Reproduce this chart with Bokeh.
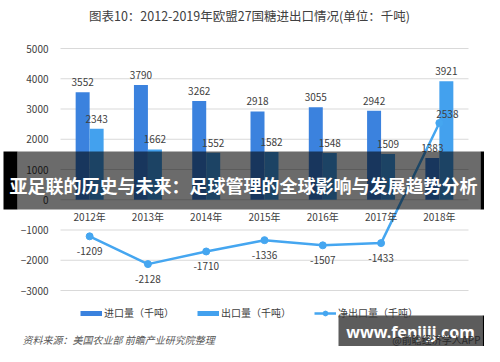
from bokeh.plotting import figure
from bokeh.models import (ColumnDataSource, Range1d, Label, BoxAnnotation,
                          Legend, LegendItem, FixedTicker, CDSView, IndexFilter)
from bokeh.embed import file_html
from bokeh.resources import INLINE
from bokeh.core.properties import value

# ---------------- data ----------------
years = ["2012年", "2013年", "2014年", "2015年", "2016年", "2017年", "2018年"]
imports = [3552, 3790, 3262, 2918, 3055, 2942, 1383]
exports = [2343, 1662, 1552, 1582, 1548, 1509, 3921]
net = [-1209, -2128, -1710, -1336, -1507, -1433, 2538]
y_ticks = [-3000, -2000, -1000, 0, 1000, 2000, 3000, 4000, 5000]
series_names = ["进口量（千吨）", "出口量（千吨）", "净出口量（千吨）"]
title_text = "图表10：2012-2019年欧盟27国糖进出口情况(单位：千吨)"
source_text = "资料来源：美国农业部 前瞻产业研究院整理"
banner_text = "亚足联的历史与未来：足球管理的全球影响与发展趋势分析"
wm_text = "www.fenjijj.com"
wm_sub = "@前瞻经济学人APP"

# ---------------- styles / layout ----------------
IMP = "#3B82DE"
EXP = "#43A1EE"
LINE = "#45A6F0"
TXT = "#404040"
FONT = "Noto Sans CJK SC"

W, H = 484, 346
NCAT = len(years)
YMIN, YMAX = -3000, 5000
# plot-area edges (pixels) of the chart
PL, PR, PT, PB = 60, 468, 48, 290
CW = (PR - PL) / NCAT
BAR_W = 0.24


def dx(px):
    return (px - PL) / CW - 0.5


def dy(py):
    return YMAX - (py - PT) / (PB - PT) * (YMAX - YMIN)


xi = list(range(NCAT))
src = ColumnDataSource(dict(
    x=xi, x_imp=[v - BAR_W / 2 for v in xi], x_exp=[v + BAR_W / 2 for v in xi],
    imports=imports, exports=exports, net=net,
    imp_lbl=[str(v) for v in imports],
    exp_lbl=[str(v) for v in exports],
    net_lbl=[str(v) for v in net],
))

p = figure(width=W, height=H,
           x_range=Range1d(dx(0), dx(W)), y_range=Range1d(dy(H), dy(0)),
           output_backend="svg", toolbar_location=None,
           min_border=0, min_border_left=0, min_border_right=0,
           min_border_top=0, min_border_bottom=0,
           outline_line_color=None,
           background_fill_color="white", border_fill_color="white")

# axes (fixed inside the canvas)
p.xaxis.fixed_location = 0
p.yaxis.fixed_location = dx(PL)
for ax in (p.xaxis, p.yaxis):
    ax.axis_line_color = None
    ax.major_tick_line_color = None
    ax.minor_tick_line_color = None
    ax.major_tick_out = 0
    ax.major_tick_in = 0
    ax.minor_tick_out = 0
    ax.minor_tick_in = 0
    ax.major_label_text_font_size = "10px"
    ax.major_label_text_color = TXT
    ax.major_label_text_font = FONT
p.xaxis.ticker = FixedTicker(ticks=xi)
p.xaxis.major_label_overrides = {i: y for i, y in zip(xi, years)}
p.xaxis.major_label_standoff = 9
p.yaxis.ticker = FixedTicker(ticks=y_ticks)
p.yaxis.major_label_standoff = 12
p.xgrid.visible = False
p.ygrid.visible = False

# horizontal grid lines spanning the category area
p.segment(x0=xi[0] - 0.5, x1=xi[-1] + 0.5, y0=y_ticks, y1=y_ticks,
          line_color="#d9d9d9", line_width=1)

# bars
p.vbar(x="x_imp", top="imports", width=BAR_W, fill_color=IMP, line_color=None, source=src)
p.vbar(x="x_exp", top="exports", width=BAR_W, fill_color=EXP, line_color=None, source=src)

# net line
r_line = p.line(x="x", y="net", line_color=LINE, line_width=2.5, source=src)
r_pts = p.scatter(x="x", y="net", size=7, marker="circle",
                  fill_color=LINE, line_color=LINE, source=src)

# value labels
lbl_kw = dict(text_align="center", text_baseline="middle", text_font_size="10px",
              text_color=TXT, text_font=value(FONT), source=src)
p.text(x="x_imp", y="imports", text="imp_lbl", y_offset=-10, **lbl_kw)
p.text(x="x_exp", y="exports", text="exp_lbl", y_offset=-10, **lbl_kw)
p.text(x="x", y="net", text="net_lbl", y_offset=15,
       view=CDSView(filter=IndexFilter(list(range(NCAT - 1)))), **lbl_kw)
p.text(x="x", y="net", text="net_lbl", y_offset=-9, x_offset=8,
       view=CDSView(filter=IndexFilter([NCAT - 1])), **lbl_kw)

# legend (hidden line proxies give the thick bar swatches)
proxy_imp = p.line(x="x_imp", y="imports", line_color=IMP, line_width=5,
                   source=src, visible=False)
proxy_exp = p.line(x="x_exp", y="exports", line_color=EXP, line_width=5,
                   source=src, visible=False)
legend = Legend(items=[
    LegendItem(label=series_names[0], renderers=[proxy_imp]),
    LegendItem(label=series_names[1], renderers=[proxy_exp]),
    LegendItem(label=series_names[2], renderers=[r_line, r_pts]),
], orientation="horizontal", location=(80, H - 320),
    glyph_width=22, glyph_height=12, label_height=12, label_standoff=2,
    spacing=23, padding=0, margin=0, border_line_color=None,
    background_fill_alpha=0, label_text_font_size="10px",
    label_text_color=TXT, label_text_font=FONT)
p.add_layout(legend)

# title and source
p.add_layout(Label(x=dx(249), y=dy(15), text=title_text, text_align="center",
                   text_baseline="middle", text_font_size="12.5px",
                   text_color=TXT, text_font=FONT))
p.add_layout(Label(x=dx(22), y=dy(339), text=source_text, text_align="left",
                   text_baseline="middle", text_font_size="10px",
                   text_font_style="italic", text_color="#595959", text_font=FONT))

# banner overlay
p.add_layout(BoxAnnotation(left=dx(17), right=dx(480), top=dy(151), bottom=dy(209),
                           fill_color="black", fill_alpha=0.58, line_color=None,
                           level="overlay"))
p.add_layout(BoxAnnotation(left=dx(3), right=dx(17), top=dy(151), bottom=dy(209),
                           fill_color="black", fill_alpha=1, line_color=None,
                           level="overlay"))
p.add_layout(BoxAnnotation(left=dx(480), right=dx(W + 2), top=dy(151), bottom=dy(209),
                           fill_color="black", fill_alpha=1, line_color=None,
                           level="overlay"))
p.add_layout(Label(x=dx(243), y=dy(184), text=banner_text, text_align="center",
                   text_baseline="middle", text_font_size="18px",
                   text_font_style="bold", text_color="white", text_font=FONT,
                   level="overlay"))

# watermark
p.add_layout(BoxAnnotation(left=dx(338), right=dx(482), top=dy(315), bottom=dy(H + 2),
                           fill_color="black", fill_alpha=0.64, line_color=None,
                           level="overlay"))
p.add_layout(BoxAnnotation(left=dx(482), right=dx(W + 2), top=dy(315), bottom=dy(H + 2),
                           fill_color="black", fill_alpha=1, line_color=None,
                           level="overlay"))
p.add_layout(Label(x=dx(410), y=dy(331), text=wm_text, text_align="center",
                   text_baseline="middle", text_font_size="16px",
                   text_font_style="bold", text_color="white", text_font="Noto Sans",
                   level="overlay"))
p.add_layout(Label(x=dx(480), y=dy(339), text=wm_sub, text_align="right",
                   text_baseline="middle", text_font_size="10px",
                   text_color="#2a2a2a", text_font=FONT, level="overlay"))

open("out.html", "w").write(file_html(p, INLINE))
